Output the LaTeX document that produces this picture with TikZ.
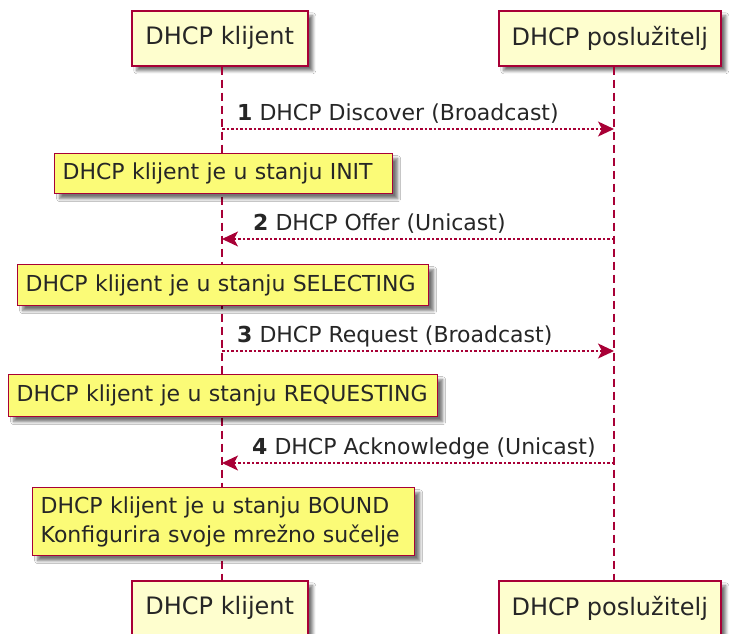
\documentclass[tikz,border=0pt]{standalone}
\usepackage{fontspec}
\setmainfont{DejaVu Sans}
\usetikzlibrary{arrows.meta,shadows.blur}
\definecolor{pumlred}{HTML}{A80036}
\definecolor{pumlpart}{HTML}{FEFECE}
\definecolor{pumlnote}{HTML}{FBFB77}
\begin{document}
\begin{tikzpicture}[x=1pt,y=-1pt,
  shadowed/.style={blur shadow={shadow xshift=5pt, shadow yshift=-5pt, shadow blur steps=6, shadow opacity=55, shadow blur radius=3pt}},
  part/.style={shadowed, draw=pumlred, fill=pumlpart, line width=1.5pt, inner sep=0pt,
    minimum height=55pt, anchor=north west, font=\fontsize{24}{28}\selectfont, text=black!85},
  notebox/.style={shadowed, draw=pumlred, fill=pumlnote, line width=1.3pt, inner xsep=8pt, inner ysep=0pt,
    align=left, anchor=north west, font=\fontsize{22}{29}\selectfont, text=black!85},
  lifeline/.style={draw=pumlred, line width=1.4pt, dash pattern=on 8pt off 5pt},
  msgline/.style={draw=pumlred, line width=1.2pt, dash pattern=on 2.5pt off 2pt,
    -{Stealth[length=16pt,width=15pt,inset=4pt,fill=pumlred]}},
  msglabel/.style={anchor=base west, inner sep=0pt, font=\fontsize{22}{26}\selectfont, text=black!85}
]
\useasboundingbox (0,0) rectangle (730,633);
\clip (0,0) rectangle (730,633);
\fill[white] (0,0) rectangle (730,633);

% lifeline positions
\coordinate (cl) at (222,0);
\coordinate (sl) at (614,0);

% participants (top and bottom)
\node[part, minimum width=176pt] (ch) at (131,10) {DHCP klijent};
\node[part, minimum width=222pt] (sh) at (498,10) {DHCP poslužitelj};
\node[part, minimum width=176pt] (cb) at (131,580) {DHCP klijent};
\node[part, minimum width=222pt] (sb) at (498,580) {DHCP poslužitelj};

% lifelines
\draw[lifeline] (ch.south -| cl) -- (cb.north -| cl);
\draw[lifeline] (sh.south -| sl) -- (sb.north -| sl);

% message 1
\coordinate (m1c) at (222,129);
\coordinate (m1s) at (614,129);
\draw[msgline] (m1c) -- (m1s);
\node[msglabel] (l1) at (237,120) {\textbf{1} DHCP Discover (Broadcast)};

% note 1
\node[notebox, text width=322pt, minimum height=40pt] (n1) at (54,153) {DHCP klijent je u stanju INIT};

% message 2
\coordinate (m2c) at (222,239);
\coordinate (m2s) at (614,239);
\draw[msgline] (m2s) -- (m2c);
\node[msglabel] (l2) at (253,230) {\textbf{2} DHCP Offer (Unicast)};

% note 2
\node[notebox, text width=395pt, minimum height=41pt] (n2) at (17,264) {DHCP klijent je u stanju SELECTING};

% message 3
\coordinate (m3c) at (222,351);
\coordinate (m3s) at (614,351);
\draw[msgline] (m3c) -- (m3s);
\node[msglabel] (l3) at (237,342) {\textbf{3} DHCP Request (Broadcast)};

% note 3
\node[notebox, text width=413pt, minimum height=42pt] (n3) at (8,374) {DHCP klijent je u stanju REQUESTING};

% message 4
\coordinate (m4c) at (222,463);
\coordinate (m4s) at (614,463);
\draw[msgline] (m4s) -- (m4c);
\node[msglabel] (l4) at (252,454) {\textbf{4} DHCP Acknowledge (Unicast)};

% note 4
\node[notebox, text width=366pt, minimum height=68pt] (n4) at (32,487) {DHCP klijent je u stanju BOUND\\Konfigurira svoje mrežno sučelje};
\end{tikzpicture}
\end{document}
